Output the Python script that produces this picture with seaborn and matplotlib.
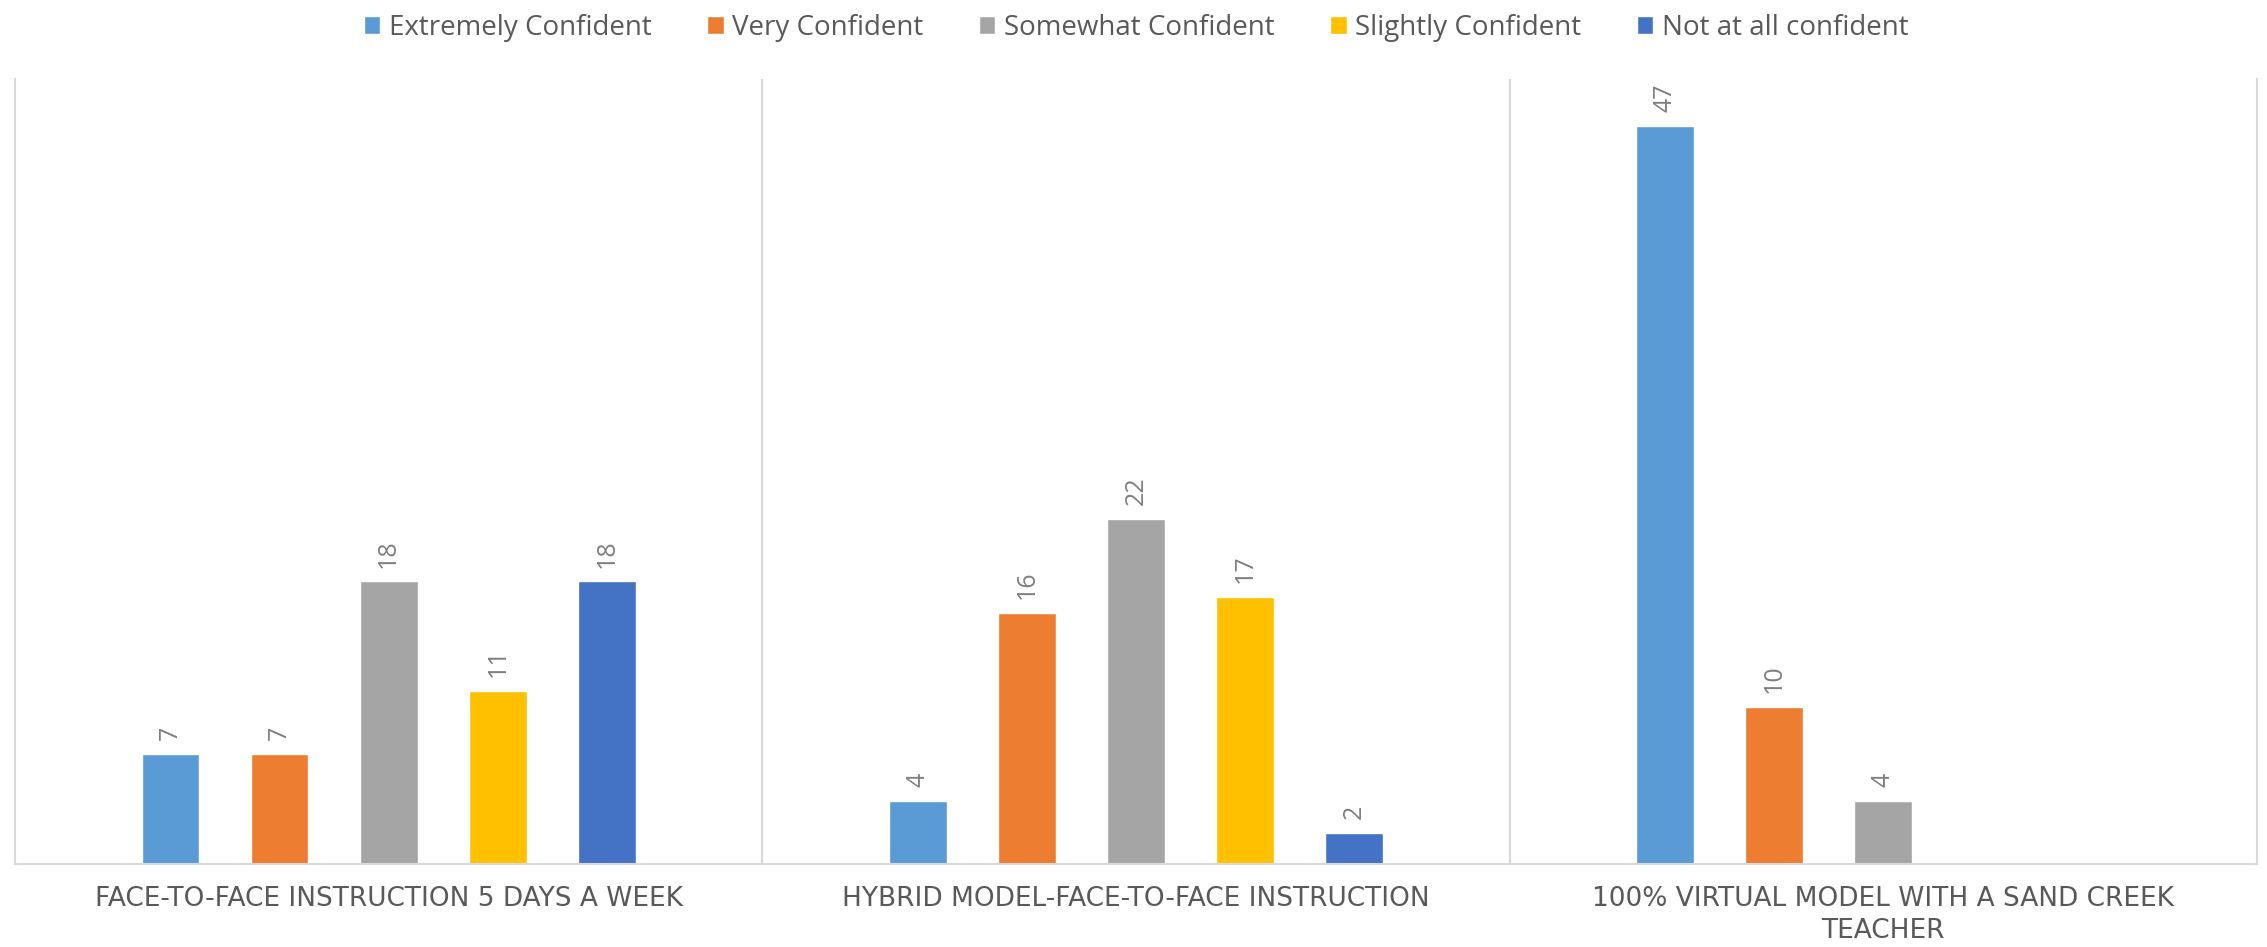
import numpy as np
import pandas as pd
import matplotlib
matplotlib.use("Agg")
import matplotlib.pyplot as plt
import seaborn as sns

categories = [
    "FACE-TO-FACE INSTRUCTION 5 DAYS A WEEK",
    "HYBRID MODEL-FACE-TO-FACE INSTRUCTION",
    "100% VIRTUAL MODEL WITH A SAND CREEK\nTEACHER",
]
levels = [
    "Extremely Confident",
    "Very Confident",
    "Somewhat Confident",
    "Slightly Confident",
    "Not at all confident",
]
extremely = [7, 4, 47]
very = [7, 16, 10]
somewhat = [18, 22, 4]
slightly = [11, 17, np.nan]
not_at_all = [18, 2, np.nan]
colors = ["#5B9BD5", "#ED7D31", "#A5A5A5", "#FFC000", "#4472C4"]

# long table for seaborn
rows = []
for lvl, vals in zip(levels, [extremely, very, somewhat, slightly, not_at_all]):
    for cat, v in zip(categories, vals):
        rows.append({"category": cat, "level": lvl, "count": v})
df = pd.DataFrame(rows)

sns.set_style("white")
plt.rcParams["font.family"] = ["Open Sans", "DejaVu Sans"]

W, H = 2267, 947
fig = plt.figure(figsize=(W / 100, H / 100), dpi=100)
ax = fig.add_axes([15 / W, (H - 864) / H, (2257 - 15) / W, (864 - 79) / H])

sns.barplot(
    data=df, x="category", y="count", hue="level",
    order=categories, hue_order=levels, palette=colors,
    width=0.73, gap=0.47, saturation=1, legend=True, ax=ax, errorbar=None,
)

# data labels
for cont in ax.containers:
    for bar in cont:
        h = bar.get_height()
        if np.isnan(h) or h == 0:
            continue
        ax.annotate(f"{int(h)}", (bar.get_x() + bar.get_width() / 2, h),
                    xytext=(0, 10), textcoords="offset points",
                    rotation=90, ha="center", va="bottom",
                    fontsize=18, color="#7F7F7F")

ax.set_ylim(0, 50)
ax.set_xlim(-0.5, 2.5)
ax.set_yticks([])
ax.set_xlabel("")
ax.set_ylabel("")

# category separators like Excel gridlines
for xs in [0.5, 1.5]:
    ax.axvline(xs, color="#D9D9D9", lw=1.5, zorder=0)
for side in ["left", "right", "bottom"]:
    ax.spines[side].set_color("#D9D9D9")
    ax.spines[side].set_linewidth(1.5)
ax.spines["top"].set_visible(False)

ax.tick_params(axis="x", length=0, pad=16)
for lab in ax.get_xticklabels():
    lab.set_fontsize(19)
    lab.set_family(["DejaVu Sans"])
    lab.set_color("#595959")
    lab.set_linespacing(1.3)

handles, labels = ax.get_legend_handles_labels()
ax.legend(handles, labels, loc="upper center", bbox_to_anchor=(0.5, 1.115),
          ncol=5, frameon=False, fontsize=20, labelcolor="#595959",
          handlelength=0.6, handleheight=0.6, handletextpad=0.3,
          columnspacing=2.0)

fig.savefig("out.png", dpi=100)
